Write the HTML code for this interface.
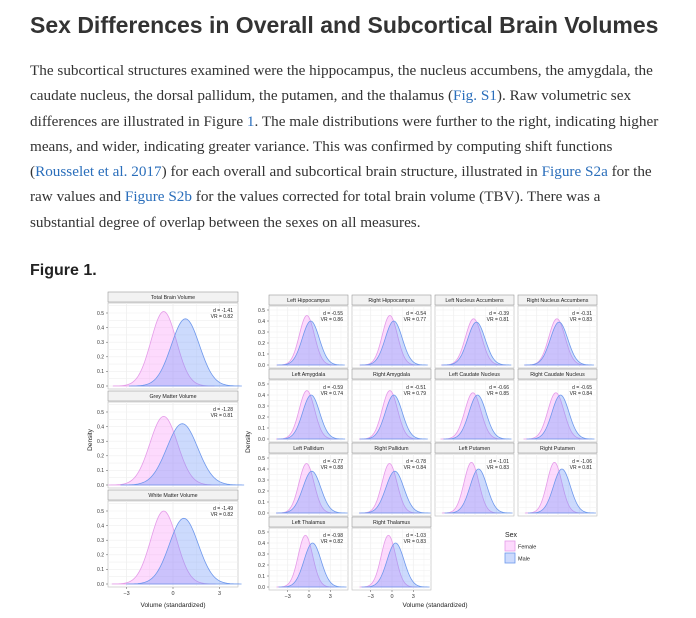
<!DOCTYPE html>
<html><head><meta charset="utf-8"><style>
body{margin:0;background:#fff;width:696px;height:618px;overflow:hidden;position:relative;font-family:"Liberation Sans",sans-serif}
h1{position:absolute;left:30px;top:12px;margin:0;font-size:23px;font-weight:bold;color:#333}
p{position:absolute;left:30px;top:58px;margin:0;width:638px;font-family:"Liberation Serif",serif;font-size:15.2px;line-height:25.3px;color:#333}
a{color:#2a6ebb;text-decoration:none}
h2{position:absolute;left:30px;top:262px;margin:0;font-size:16px;font-weight:bold;color:#222}
svg{position:absolute;left:0;top:0}
</style></head><body>
<h1>Sex Differences in Overall and Subcortical Brain Volumes</h1>
<p>The subcortical structures examined were the hippocampus, the nucleus accumbens, the amygdala, the caudate nucleus, the dorsal pallidum, the putamen, and the thalamus (<a href="#">Fig. S1</a>). Raw volumetric sex differences are illustrated in Figure <a href="#">1</a>. The male distributions were further to the right, indicating higher means, and wider, indicating greater variance. This was confirmed by computing shift functions (<a href="#">Rousselet et al. 2017</a>) for each overall and subcortical brain structure, illustrated in <a href="#">Figure S2a</a> for the raw values and <a href="#">Figure S2b</a> for the values corrected for total brain volume (TBV). There was a substantial degree of overlap between the sexes on all measures.</p>
<h2>Figure 1.</h2>
<svg id="chart" width="696" height="618"></svg>
<script>
const leftNames=["Total Brain Volume","Grey Matter Volume","White Matter Volume"];
const leftD=["-1.41","-1.28","-1.49"];
const leftVR=["0.82","0.81","0.82"];
const leftFMean=[-0.6,-0.6,-0.6];
const leftMMean=[0.8,0.6,0.7];
const leftFPeak=[0.51,0.47,0.50];
const leftMPeak=[0.46,0.42,0.45];
const rightNames=["Left Hippocampus","Right Hippocampus","Left Nucleus Accumbens","Right Nucleus Accumbens","Left Amygdala","Right Amygdala","Left Caudate Nucleus","Right Caudate Nucleus","Left Pallidum","Right Pallidum","Left Putamen","Right Putamen","Left Thalamus","Right Thalamus"];
const rightD=["-0.55","-0.54","-0.39","-0.31","-0.59","-0.51","-0.66","-0.65","-0.77","-0.78","-1.01","-1.06","-0.98","-1.03"];
const rightVR=["0.86","0.77","0.81","0.83","0.74","0.79","0.85","0.84","0.88","0.84","0.83","0.81","0.82","0.83"];
const rightFMean=[-0.3,-0.3,-0.2,-0.15,-0.3,-0.3,-0.3,-0.3,-0.35,-0.35,-0.5,-0.5,-0.5,-0.5];
const rightMMean=[0.25,0.25,0.2,0.15,0.3,0.25,0.35,0.35,0.4,0.4,0.5,0.55,0.5,0.5];
const rightFPeak=[0.45,0.45,0.42,0.42,0.44,0.44,0.42,0.42,0.45,0.45,0.46,0.46,0.47,0.47];
const rightMPeak=[0.40,0.40,0.39,0.39,0.40,0.40,0.40,0.40,0.38,0.38,0.40,0.40,0.40,0.40];
const yTicks=[0,0.1,0.2,0.3,0.4,0.5];
const xTicks=[-3,0,3];
const NS="http://www.w3.org/2000/svg";
const svg=document.getElementById('chart');
function mk(t,a,p){const e=document.createElementNS(NS,t);for(const k in a)e.setAttribute(k,a[k]);(p||svg).appendChild(e);return e;}
function panel(px,py,w,stripH,plotH,ppu,cx,ypu,widen,name,d,vr,fm,mm,fp,mp,yLabX,xLabels){
  const g=mk('g',{});
  
  
  mk('rect',{x:px,y:py,width:w,height:stripH,fill:'#f2f2f2',stroke:'#999','stroke-width':0.6},g);
  const st=mk('text',{x:px+w/2,y:py+stripH-3,'font-size':5.3,'text-anchor':'middle',fill:'#222'},g);st.textContent=name;
  const top=py+stripH+1, bot=top+plotH;
  mk('rect',{x:px,y:top,width:w,height:plotH,fill:'#fff',stroke:'#bbb','stroke-width':0.6},g);
  const X=v=>px+cx+v*ppu, Y=v=>bot-3-v*ypu;
  for(let v=-6;v<=6;v+=1.5){const xx=X(v);if(xx>px&&xx<px+w)mk('line',{x1:xx,x2:xx,y1:top,y2:bot,stroke:'#efefef','stroke-width':Math.abs(v%3)<0.01?0.8:0.4},g);}
  for(let v=0;v<=0.55;v+=0.05){const yy=Y(v);if(yy>top)mk('line',{x1:px,x2:px+w,y1:yy,y2:yy,stroke:'#efefef','stroke-width':0.6},g);}
  if(yLabX!==null){yTicks.forEach(v=>{const t=mk('text',{x:yLabX,y:Y(v)+1.8,'font-size':5,'text-anchor':'end',fill:'#333'},g);t.textContent=v.toFixed(1);mk('line',{x1:px-2,x2:px,y1:Y(v),y2:Y(v),stroke:'#555','stroke-width':0.5},g);});}
  if(xLabels){xTicks.forEach(v=>{mk('line',{x1:X(v),x2:X(v),y1:bot,y2:bot+2,stroke:'#555','stroke-width':0.5},g);const t=mk('text',{x:X(v),y:bot+8,'font-size':5.5,'text-anchor':'middle',fill:'#333'},g);t.textContent=(v<0?'\u22123':v);});}
  const curve=(m,pk,fill,stroke,nm)=>{const sd=0.3989/pk*widen;let dd='';const lo=-4*sd+m, hi=4*sd+m;for(let i=0;i<=80;i++){const v=lo+(hi-lo)*i/80;const yv=pk*Math.exp(-0.5*((v-m)/sd)**2);dd+=(i?'L':'M')+X(v).toFixed(2)+','+Y(yv).toFixed(2);}
    const e=mk('path',{d:dd+'Z',fill:fill,stroke:stroke,'stroke-width':0.8},g);
    
    };
  curve(fm,fp,'rgba(250,150,250,0.35)','#e49ce8','female-density');
  curve(mm,mp,'rgba(110,150,250,0.35)','#6e98ec','male-density');
  const t1=mk('text',{x:px+w-5,y:top+9,'font-size':5,'text-anchor':'end',fill:'#222'},g);t1.textContent='d = '+d;
  const t2=mk('text',{x:px+w-5,y:top+15,'font-size':5,'text-anchor':'end',fill:'#222'},g);t2.textContent='VR = '+vr;
}
leftNames.forEach((n,i)=>panel(108,292+i*99,130,10,86,15.5,65,146,1.05,n,leftD[i],leftVR[i],leftFMean[i],leftMMean[i],leftFPeak[i],leftMPeak[i],104,i===2));
rightNames.forEach((n,i)=>{const c=i%4,r=Math.floor(i/4);panel(269+c*83,295+r*74,79,10,62,7.1,40,110,1.2,n,rightD[i],rightVR[i],rightFMean[i],rightMMean[i],rightFPeak[i],rightMPeak[i],c===0?265:null,r===3);});
function txt(s,a,nm){const t=mk('text',a);t.textContent=s;return t;}
txt('Density',{x:0,y:0,'font-size':6.5,'text-anchor':'middle',transform:'translate(92,440) rotate(-90)',fill:'#222'},'left-y-axis-title');
txt('Density',{x:0,y:0,'font-size':6.5,'text-anchor':'middle',transform:'translate(250,442) rotate(-90)',fill:'#222'},'right-y-axis-title');
txt('Volume (standardized)',{x:173,y:607,'font-size':6.5,'text-anchor':'middle',fill:'#222'},'left-x-axis-title');
txt('Volume (standardized)',{x:435,y:607,'font-size':6.5,'text-anchor':'middle',fill:'#222'},'right-x-axis-title');
txt('Sex',{x:505,y:537,'font-size':7,fill:'#222'},'legend-title');
mk('rect',{x:505,y:541,width:10,height:10,fill:'rgba(250,150,250,0.35)',stroke:'#e49ce8','stroke-width':0.8});
mk('rect',{x:505,y:553,width:10,height:10,fill:'rgba(110,150,250,0.35)',stroke:'#6e98ec','stroke-width':0.8});
txt('Female',{x:518,y:548.5,'font-size':5.5,fill:'#222'},'legend-female-label');
txt('Male',{x:518,y:560.5,'font-size':5.5,fill:'#222'},'legend-male-label');
</script>
</body></html>
